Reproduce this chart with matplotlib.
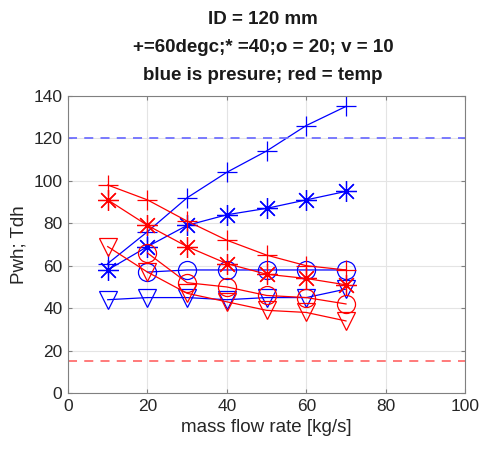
import matplotlib
matplotlib.use("Agg")
import matplotlib.pyplot as plt

plt.rcParams['font.family'] = ['Liberation Sans', 'DejaVu Sans']

# mass flow rate [kg/s]
flow = [10, 20, 30, 40, 50, 60, 70]
flow_20 = [20, 30, 40, 50, 60, 70]

# pressure (blue) for each inlet temperature
p_60 = [61, 76, 92, 104, 114, 126, 135]
p_40 = [58, 69, 79, 84, 87, 91, 95]
p_20 = [57, 58, 58, 58, 58, 58]
p_10 = [44, 45, 45, 44, 45, 45, 49]

# temperature (red) for each inlet temperature
t_60 = [98, 91, 81, 72, 65, 60, 58]
t_40 = [91, 79, 69, 61, 56, 54, 51]
t_20 = [66, 52, 50, 46, 45, 42]
t_10 = [69, 57, 47, 43, 39, 38, 34]

p_limit = 120
t_limit = 15

fig = plt.figure(figsize=(4.79, 4.54), dpi=100)
ax = fig.add_axes([0.142, 0.134, 0.829, 0.655])

lw = 0.9
star = (8, 2, 0)  # asterisk: eight arms
ax.plot(flow, p_60, 'b-+', lw=lw, ms=15, mew=0.9)
ax.plot(flow, p_40, 'b-', marker=star, lw=lw, ms=15, mew=0.9)
ax.plot(flow_20, p_20, 'b-o', lw=lw, ms=13, mfc='none', mew=0.9)
ax.plot(flow, p_10, 'b-v', lw=lw, ms=13, mfc='none', mew=0.9)

ax.plot(flow, t_60, 'r-+', lw=lw, ms=15, mew=0.9)
ax.plot(flow, t_40, 'r-', marker=star, lw=lw, ms=15, mew=0.9)
ax.plot(flow_20, t_20, 'r-o', lw=lw, ms=13, mfc='none', mew=0.9)
ax.plot(flow, t_10, 'r-v', lw=lw, ms=13, mfc='none', mew=0.9)

ax.axhline(p_limit, color='#7070ff', ls=(0, (5, 4)), lw=1.3)
ax.axhline(t_limit, color='#ff7070', ls=(0, (5, 4)), lw=1.3)

ax.set_xlim(0, 100)
ax.set_ylim(0, 140)
ax.set_xticks(range(0, 101, 20))
ax.set_yticks(range(0, 141, 20))
ax.grid(True, color='#e4e4e4', lw=0.8)
ax.set_axisbelow(True)
for s in ax.spines.values():
    s.set_color('#808080')
ax.tick_params(direction='in', top=True, right=True, length=3,
               color='#808080', labelsize=12.5, labelcolor='#262626', pad=4)

ax.set_xlabel('mass flow rate [kg/s]', fontsize=13.5, color='#262626')
ax.set_ylabel('Pwh; Tdh', fontsize=13.5, color='#262626', labelpad=4)

title_lines = ['ID = 120 mm',
               '+=60degc;* =40;o = 20; v = 10',
               'blue is presure; red = temp']
for i, line in enumerate(title_lines):
    fig.text(0.549, 1 - (19 + 28.5 * i) / 454, line, ha='center', va='center',
             fontsize=13.5, fontweight='bold', color='#1a1a1a')

fig.savefig('out.png', dpi=100)
